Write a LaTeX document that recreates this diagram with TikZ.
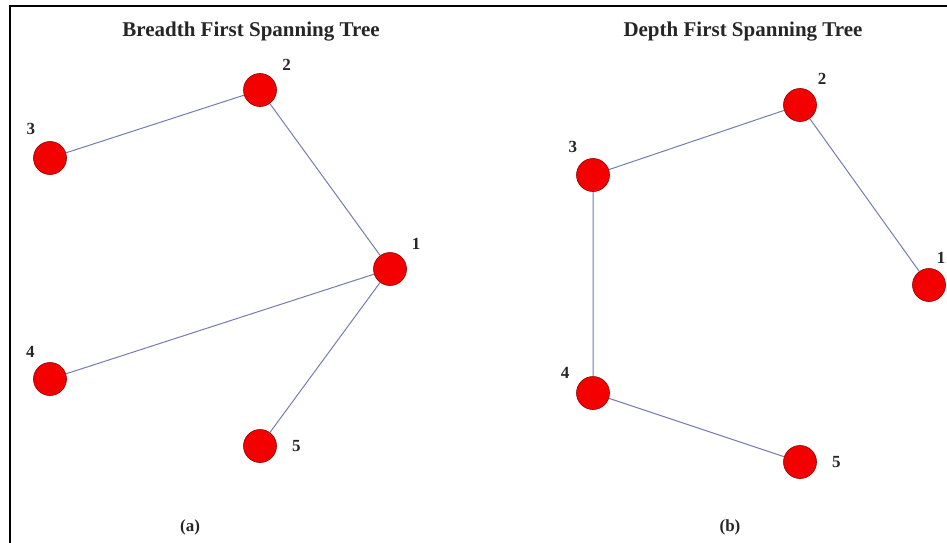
\documentclass[tikz,border=0pt]{standalone}
\usepackage{fontspec}
\setmainfont{Liberation Serif}
\usepackage{tikz}
\definecolor{edgeblue}{RGB}{115,125,175}
\definecolor{vertexred}{RGB}{245,0,0}
\tikzset{
vertex/.style={circle, fill=vertexred, draw=red!55!black, line width=0.6pt, minimum size=33pt, inner sep=0pt}, % red vertices
num/.style={font=\bfseries\fontsize{17}{19}\selectfont, inner sep=1pt, text=black!85}, % vertex numbers
title/.style={font=\bfseries\fontsize{21}{25}\selectfont, text=black!85}, % panel headings
tree/.style={draw=edgeblue, line width=1pt}, % tree edges
}

\begin{document}
\begin{tikzpicture}[x=1pt,y=-1pt]
		\useasboundingbox (0,0) rectangle (947,543);
		\draw[line width=2pt] (10,543) |- (947,6);
		% breadth first
		\node[title] (ta) at (251,32) {Breadth First Spanning Tree};
		\node[vertex, label={[num, label distance=11pt]40:2}] (a2) at (260,90) {};
		\node[vertex, label={[num, label distance=9pt]122:3}] (a3) at (50,158) {};
		\node[vertex, label={[num, label distance=11pt]42:1}] (a1) at (390,269) {};
		\node[vertex, label={[num, label distance=8pt]125:4}] (a4) at (50,379) {};
		\node[vertex, label={[num, label distance=14pt]0:5}] (a5) at (260,446) {};
		\draw[tree] (a3) -- (a2) (a2) -- (a1)
		(a4) -- (a1) (a1) -- (a5);
		\node[num] (capa) at (190,527) {(a)};
		% depth first
		\node[title] (tb) at (743,32) {Depth First Spanning Tree};
		\node[vertex, label={[num, label distance=9pt]50:2}] (b2) at (800,105) {};
		\node[vertex, label={[num, label distance=9pt]125:3}] (b3) at (593,175) {};
		\node[vertex, label={[num, label distance=5pt]72:1}] (b1) at (929,285) {};
		\node[vertex, label={[num, label distance=9pt]150:4}] (b4) at (593,393) {};
		\node[vertex, label={[num, label distance=14pt]0:5}] (b5) at (800,462) {};
		\draw[tree] (b1) -- (b2) (b2) -- (b3)
		(b3) -- (b4) (b4) -- (b5);
		\node[num] (capb) at (730,527) {(b)};
	\end{tikzpicture}
\end{document}
